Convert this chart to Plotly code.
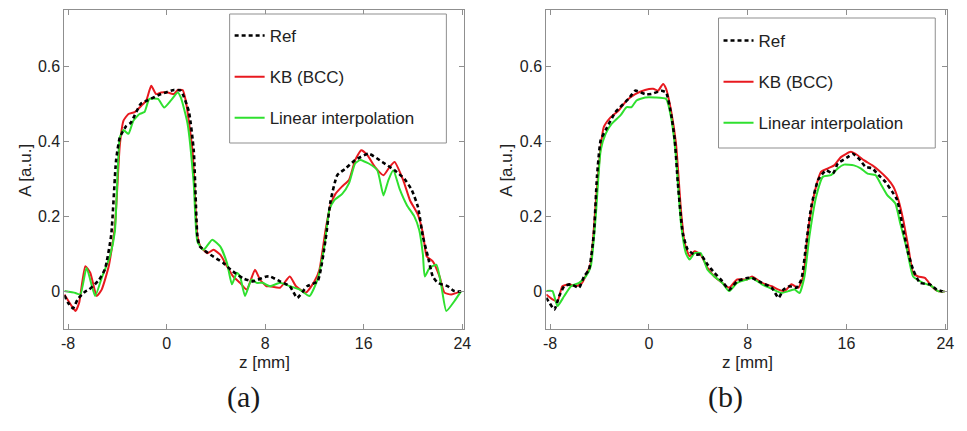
import plotly.graph_objects as go

# ---------------- data: panel (a) ----------------
za_ref = [-8.3, -8.0, -7.6, -7.2, -6.6, -6.3, -5.8, -5.5, -5.0, -4.5, -4.1, -3.8, -3.3, -2.9, -2.1, -1.5, -0.45, 0.6, 1.15, 1.8, 2.2, 2.5, 2.7, 3.55, 4.6, 5.2, 6.2, 7.0, 8.1, 8.4, 9.2, 10.0, 10.6, 11.4, 12.25, 12.9, 13.3, 13.85, 14.5, 15.3, 16.4, 17.5, 18.5, 19.3, 19.9, 20.4, 20.8, 21.2, 21.6, 22.0, 22.8, 23.35, 23.9]
Aa_ref = [-0.01, -0.03, -0.045, -0.02, 0.0, 0.005, 0.02, 0.03, 0.06, 0.15, 0.35, 0.41, 0.44, 0.45, 0.5, 0.51, 0.526, 0.537, 0.535, 0.48, 0.376, 0.147, 0.12, 0.098, 0.076, 0.058, 0.035, 0.027, 0.04, 0.04, 0.027, 0.014, -0.017, 0.014, 0.027, 0.138, 0.24, 0.31, 0.327, 0.35, 0.367, 0.345, 0.323, 0.30, 0.27, 0.225, 0.146, 0.094, 0.04, 0.023, 0.014, 0.001, 0.0]

za_kb = [-8.3, -7.7, -7.4, -7.1, -6.6, -6.2, -5.67, -5.27, -4.7, -4.2, -3.8, -3.5, -3.1, -2.6, -2.05, -1.65, -1.25, -0.85, -0.45, 0.1, 0.6, 0.9, 1.3, 1.55, 2.1, 2.5, 2.75, 3.3, 3.8, 4.35, 4.9, 5.4, 5.95, 6.5, 7.17, 7.57, 8.1, 8.4, 9.2, 10.0, 10.5, 11.3, 12.0, 12.4, 12.9, 13.3, 13.7, 14.25, 14.8, 15.3, 15.8, 16.3, 16.9, 17.6, 18.1, 18.5, 19.2, 19.75, 20.4, 20.8, 21.1, 21.6, 22.15, 22.55, 23.1, 23.9]
Aa_kb = [-0.008, -0.039, -0.052, -0.03, 0.067, 0.05, -0.012, 0.005, 0.067, 0.173, 0.39, 0.455, 0.473, 0.478, 0.495, 0.509, 0.548, 0.526, 0.53, 0.53, 0.526, 0.537, 0.537, 0.509, 0.376, 0.147, 0.12, 0.102, 0.111, 0.098, 0.067, 0.04, 0.023, 0.005, 0.058, 0.032, 0.014, 0.014, 0.01, 0.04, 0.014, -0.003, 0.027, 0.058, 0.164, 0.23, 0.26, 0.28, 0.297, 0.35, 0.376, 0.363, 0.332, 0.31, 0.332, 0.345, 0.297, 0.243, 0.204, 0.155, 0.094, 0.08, 0.04, -0.003, -0.008, 0.001]

za_lin = [-8.3, -7.4, -7.0, -6.5, -5.8, -5.27, -4.6, -4.2, -3.8, -3.5, -3.1, -2.7, -2.2, -1.8, -1.4, -0.7, -0.2, 0.35, 0.9, 1.15, 1.7, 2.2, 2.5, 3.0, 3.7, 4.35, 4.9, 5.3, 5.7, 5.96, 6.36, 6.9, 7.3, 7.8, 8.4, 9.2, 10.0, 10.8, 11.6, 12.25, 12.8, 13.2, 13.6, 14.25, 14.8, 15.3, 15.7, 16.4, 17.1, 17.6, 18.0, 18.4, 18.9, 19.5, 20.1, 20.5, 20.8, 20.95, 21.35, 21.9, 22.3, 22.7, 23.35, 23.9]
Aa_lin = [0.001, -0.004, -0.008, 0.063, -0.012, 0.036, 0.094, 0.16, 0.41, 0.43, 0.42, 0.455, 0.473, 0.478, 0.513, 0.513, 0.49, 0.509, 0.53, 0.517, 0.447, 0.288, 0.133, 0.111, 0.138, 0.12, 0.076, 0.019, 0.05, 0.04, -0.012, 0.032, 0.023, 0.023, 0.014, 0.023, 0.014, 0.005, -0.012, 0.032, 0.12, 0.217, 0.243, 0.26, 0.288, 0.341, 0.35, 0.341, 0.323, 0.256, 0.297, 0.323, 0.274, 0.23, 0.2, 0.164, 0.098, 0.04, 0.063, 0.071, 0.014, -0.052, -0.026, 0.001]

# ---------------- data: panel (b) ----------------
zb_ref = [-8.3, -8.05, -7.65, -7.25, -6.85, -6.3, -5.65, -5.25, -4.85, -4.45, -4.2, -3.9, -3.5, -2.7, -1.65, -1.1, -0.3, 0.2, 1.0, 1.4, 1.8, 2.1, 2.35, 2.75, 3.15, 3.7, 4.2, 4.75, 5.3, 5.95, 6.5, 7.15, 7.95, 8.35, 9.15, 9.95, 10.5, 10.9, 11.4, 11.95, 12.35, 12.75, 13.15, 13.7, 14.35, 14.9, 15.3, 16.1, 16.5, 17.0, 17.55, 18.1, 18.6, 19.15, 19.7, 20.1, 20.6, 21.0, 21.4, 21.95, 22.75, 23.3, 23.8]
Ab_ref = [-0.017, -0.03, -0.048, -0.012, 0.014, 0.019, 0.01, 0.04, 0.058, 0.155, 0.305, 0.403, 0.43, 0.478, 0.513, 0.535, 0.526, 0.526, 0.535, 0.53, 0.473, 0.403, 0.288, 0.155, 0.111, 0.098, 0.098, 0.072, 0.05, 0.027, 0.005, 0.027, 0.036, 0.036, 0.023, 0.01, -0.017, 0.005, 0.014, 0.01, 0.032, 0.129, 0.226, 0.297, 0.323, 0.314, 0.341, 0.358, 0.367, 0.354, 0.332, 0.328, 0.31, 0.292, 0.266, 0.244, 0.164, 0.102, 0.058, 0.023, 0.019, 0.005, 0.0]

zb_kb = [-8.3, -7.8, -7.4, -7.0, -6.45, -5.9, -5.4, -5.0, -4.7, -4.3, -3.9, -3.65, -3.1, -2.45, -1.8, -1.1, -0.3, 0.35, 0.75, 1.15, 1.4, 1.8, 2.2, 2.6, 2.9, 3.3, 3.7, 4.2, 4.75, 5.3, 5.95, 6.5, 7.15, 7.95, 8.35, 9.15, 9.95, 10.5, 11.0, 11.55, 12.1, 12.5, 12.9, 13.4, 13.95, 14.5, 15.0, 15.55, 16.35, 16.9, 17.4, 18.1, 18.6, 19.3, 19.8, 20.2, 20.6, 21.0, 21.4, 21.8, 22.35, 22.9, 23.4, 23.95]
Ab_kb = [-0.008, -0.021, -0.026, 0.014, 0.019, 0.014, 0.023, 0.05, 0.076, 0.235, 0.385, 0.438, 0.464, 0.482, 0.509, 0.526, 0.537, 0.54, 0.535, 0.553, 0.54, 0.482, 0.394, 0.217, 0.129, 0.094, 0.107, 0.098, 0.063, 0.04, 0.023, 0.01, 0.032, 0.032, 0.04, 0.023, 0.014, 0.005, 0.001, 0.019, 0.01, 0.04, 0.164, 0.261, 0.319, 0.328, 0.336, 0.358, 0.372, 0.363, 0.35, 0.336, 0.323, 0.301, 0.279, 0.244, 0.19, 0.12, 0.049, 0.04, 0.036, 0.014, 0.001, 0.0]

zb_lin = [-8.3, -7.8, -7.4, -6.85, -6.3, -5.65, -5.1, -4.7, -4.3, -3.9, -3.5, -3.0, -2.3, -1.8, -1.4, -1.0, -0.3, 0.5, 1.4, 1.8, 2.2, 2.6, 3.0, 3.3, 3.7, 4.2, 4.75, 5.3, 5.95, 6.5, 7.15, 7.95, 8.35, 9.15, 9.95, 10.75, 11.3, 11.8, 12.2, 12.6, 13.0, 13.55, 14.1, 14.75, 15.3, 15.8, 16.6, 17.15, 17.7, 18.35, 18.75, 19.3, 19.95, 20.35, 20.9, 21.4, 22.2, 22.9, 23.4, 23.95]
Ab_lin = [0.001, 0.001, -0.039, -0.012, 0.014, 0.023, 0.04, 0.067, 0.2, 0.376, 0.42, 0.447, 0.469, 0.491, 0.491, 0.509, 0.517, 0.517, 0.513, 0.464, 0.358, 0.182, 0.102, 0.085, 0.102, 0.102, 0.058, 0.04, 0.023, 0.001, 0.023, 0.032, 0.036, 0.019, 0.007, -0.004, 0.001, 0.005, -0.004, 0.04, 0.147, 0.253, 0.306, 0.31, 0.328, 0.338, 0.336, 0.328, 0.314, 0.31, 0.288, 0.257, 0.235, 0.182, 0.111, 0.04, 0.023, 0.014, 0.001, 0.0]

series_names = ["Ref", "KB (BCC)", "Linear interpolation"]
x_ticks = [-8, 0, 8, 16, 24]
x_ticktext = ["-8", "0", "8", "16", "24"]
y_ticks = [0, 0.2, 0.4, 0.6]
y_ticktext = ["0", "0.2", "0.4", "0.6"]
panel_labels = ["(a)", "(b)"]

RED = "#e8191f"
GREEN = "#2fe02f"
AXC = "#8f8f8f"
TXT = "#222222"

fig = go.Figure()

panels = [
    ("x", "y", "legend", za_ref, Aa_ref, za_kb, Aa_kb, za_lin, Aa_lin),
    ("x2", "y2", "legend2", zb_ref, Ab_ref, zb_kb, Ab_kb, zb_lin, Ab_lin),
]
for xa, ya, lg, zr, ar, zk, ak, zl, al in panels:
    fig.add_trace(go.Scatter(x=zk, y=ak, mode="lines", name=series_names[1],
                             line=dict(color=RED, width=2, shape="spline", smoothing=0.5),
                             xaxis=xa, yaxis=ya,
                             legend=lg, legendrank=2, legendgroup=lg + "b"))
    fig.add_trace(go.Scatter(x=zl, y=al, mode="lines", name=series_names[2],
                             line=dict(color=GREEN, width=2, shape="spline", smoothing=0.5),
                             xaxis=xa, yaxis=ya,
                             legend=lg, legendrank=3, legendgroup=lg + "c"))
    fig.add_trace(go.Scatter(x=zr, y=ar, mode="lines", name=series_names[0],
                             line=dict(color="black", width=2.6, dash="4px,3px",
                                       shape="spline", smoothing=0.5),
                             xaxis=xa, yaxis=ya,
                             legend=lg, legendrank=1, legendgroup=lg + "a"))

W, H = 967, 431
ydom = [1 - 329 / H, 1 - 10 / H]
xdoms = [[62 / W, 466 / W], [549 / W, 954 / W]]

axis_common = dict(showline=True, mirror="ticks", linecolor=AXC, linewidth=1,
                   ticks="inside", ticklen=5, tickcolor=AXC, showgrid=False,
                   zeroline=False, tickfont=dict(family="Liberation Sans, Arial", size=16, color=TXT))

legend_common = dict(bgcolor="rgba(0,0,0,0)", borderwidth=0,
                     font=dict(family="Liberation Sans, Arial", size=17, color=TXT),
                     tracegroupgap=16, xanchor="left", yanchor="top",
                     itemwidth=30)

# legend frames (pixel boxes converted to paper fractions)
legend_boxes = [(229, 14, 448, 143), (723, 18, 942, 148)]
shapes = []
for (x0, y0, x1, y1) in legend_boxes:
    shapes.append(dict(type="rect", xref="paper", yref="paper",
                       x0=x0 / W, x1=x1 / W, y0=1 - y1 / H, y1=1 - y0 / H,
                       line=dict(color=AXC, width=1), fillcolor="white", layer="above"))

fig.update_layout(
    width=W, height=H,
    margin=dict(l=0, r=0, t=0, b=0),
    paper_bgcolor="white", plot_bgcolor="white",
    xaxis=dict(domain=xdoms[0], range=[-8.3, 24.15], tickvals=x_ticks, ticktext=x_ticktext, anchor="y", **axis_common),
    yaxis=dict(domain=ydom, range=[-0.1, 0.75], tickvals=y_ticks, ticktext=y_ticktext, anchor="x", **axis_common),
    xaxis2=dict(domain=xdoms[1], range=[-8.3, 24.15], tickvals=x_ticks, ticktext=x_ticktext, anchor="y2", **axis_common),
    yaxis2=dict(domain=ydom, range=[-0.1, 0.75], tickvals=y_ticks, ticktext=y_ticktext, anchor="x2", **axis_common),
    legend=dict(x=229 / W, y=1 - 18 / H, **legend_common),
    legend2=dict(x=723 / W, y=1 - 23 / H, **legend_common),
    showlegend=True,
    shapes=shapes,
)

ann_font = dict(family="Liberation Sans, Arial", size=17, color=TXT)
for i, (xc, label) in enumerate([(264, panel_labels[0]), (752, panel_labels[1])]):
    fig.add_annotation(x=xc / W, y=1 - 362 / H, xref="paper", yref="paper",
                       text="z [mm]", showarrow=False, font=ann_font,
                       xanchor="center", yanchor="middle")
    fig.add_annotation(x=(22 if i == 0 else 508) / W, y=1 - 170 / H, xref="paper", yref="paper",
                       text="A [a.u.]", textangle=-90, showarrow=False, font=ann_font,
                       xanchor="center", yanchor="middle")
    fig.add_annotation(x=(243 if i == 0 else 730) / W, y=1 - 397 / H, xref="paper", yref="paper",
                       text=label, showarrow=False,
                       font=dict(family="Liberation Serif, Times New Roman", size=30, color="#1a1a1a"),
                       xanchor="center", yanchor="middle")

fig.write_html("out.html")
